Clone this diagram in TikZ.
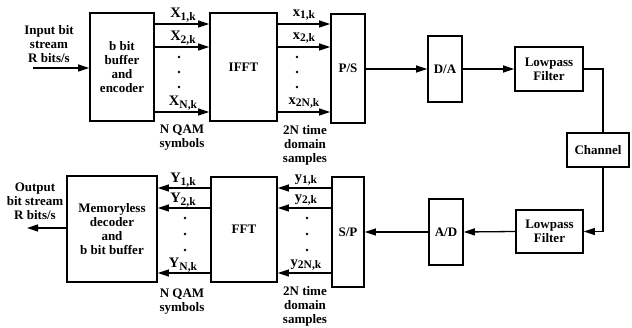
\documentclass[tikz,border=0pt]{standalone}
\usepackage{fontspec}
\setmainfont{Liberation Serif}
\usetikzlibrary{arrows.meta}
\newcommand\dtxt{\fontsize{13}{14}\selectfont\bfseries}
\newcommand\dsub{\fontsize{14.5}{14}\selectfont\bfseries}
\newcommand\dsb[1]{\raisebox{-2.5pt}{\fontsize{11.5}{12}\selectfont\bfseries #1}}
\begin{document}
\begin{tikzpicture}[x=1pt,y=-1pt,
  box/.style={draw, line width=1.6pt, inner sep=0pt, align=center, font=\dtxt},
  arr/.style={line width=1.3pt, -{Triangle[length=11pt,width=7pt]}},
  ln/.style={line width=1.3pt},
  lbl/.style={font=\dtxt, align=center, inner sep=0pt},
  sub/.style={font=\dsub, inner sep=0pt},
  dot/.style={fill, circle, inner sep=0pt, minimum size=2.6pt},
]
\useasboundingbox (0,0) rectangle (632,328);

% top row
\node[box, minimum width=64pt, minimum height=108pt] (enc) at (122,67) {b bit\\buffer\\and\\encoder};
\node[box, minimum width=67pt, minimum height=108pt] (ifft) at (243.5,67) {IFFT};
\node[box, minimum width=34pt, minimum height=109pt] (ps) at (348,68.5) {P/S};
\node[box, minimum width=34pt, minimum height=66pt] (da) at (445,69) {D/A};
\node[box, minimum width=68pt, minimum height=44pt] (lpf1) at (549,69) {Lowpass\\Filter};
\node[box, minimum width=62pt, minimum height=34pt] (chan) at (598,150) {Channel};

% bottom row
\node[box, minimum width=67pt, minimum height=43pt] (lpf2) at (549.5,231.5) {Lowpass\\Filter};
\node[box, minimum width=34pt, minimum height=66pt] (ad) at (446,232) {A/D};
\node[box, minimum width=32pt, minimum height=110pt] (sp) at (348,232) {S/P};
\node[box, minimum width=66pt, minimum height=105pt] (fft) at (244,229.5) {FFT};
\node[box, minimum width=90pt, minimum height=106pt] (dec) at (112,229) {Memoryless\\decoder\\and\\b bit buffer};

% input / output
\node[lbl] (inlbl) at (49,44) {Input bit\\stream\\R bits/s};
\coordinate (instart) at (33,68);
\draw[arr] (instart) -- (enc.west |- instart);
\node[lbl] (outlbl) at (35,201) {Output\\bit stream\\R bits/s};
\coordinate (outend) at (27,228);
\draw[arr] (dec.west |- outend) -- (outend);

% encoder -> IFFT
\foreach \yy in {24,47,112} {
  \draw[arr] (enc.east |- 0,\yy) -- (ifft.west |- 0,\yy);
  \draw[arr] (ifft.east |- 0,\yy) -- (ps.west |- 0,\yy);
}
\node[sub] (X1) at (183,15) {X\dsb{1,k}};
\node[sub] (X2) at (183,38) {X\dsb{2,k}};
\node[sub] (XN) at (183,103) {X\dsb{N,k}};
\node[sub] (x1) at (304,15) {x\dsb{1,k}};
\node[sub] (x2) at (304,38) {x\dsb{2,k}};
\node[sub] (x2N) at (304,103) {x\dsb{2N,k}};
\foreach \yy in {57,72,87} {
  \node[dot] at (179,\yy) {};
  \node[dot] at (297,\yy) {};
}
\node[lbl] (nq1) at (182,138) {N QAM\\symbols};
\node[lbl] (ts1) at (305,145) {2N time\\domain\\samples};

% P/S -> D/A -> LPF -> channel
\draw[arr] (ps.east |- da.west) -- (da.west);
\draw[arr] (da.east) -- (lpf1.west);
\coordinate (cx) at (603,0);
\draw[ln] (lpf1.east) -| (chan.north -| cx);
\draw[arr] (chan.south -| cx) |- (lpf2.east);
\draw[arr] (lpf2.west) -- (ad.east);
\draw[arr] (ad.west) -- (sp.east |- ad.west);

% S/P -> FFT -> decoder
\foreach \yy in {188,208,273} {
  \draw[arr] (sp.west |- 0,\yy) -- (fft.east |- 0,\yy);
  \draw[arr] (fft.west |- 0,\yy) -- (dec.east |- 0,\yy);
}
\node[sub] (Y1) at (183,180) {Y\dsb{1,k}};
\node[sub] (Y2) at (183,200) {Y\dsb{2,k}};
\node[sub] (YN) at (183,265) {Y\dsb{N,k}};
\node[sub] (y1) at (306,180) {y\dsb{1,k}};
\node[sub] (y2) at (306,200) {y\dsb{2,k}};
\node[sub] (y2N) at (306,265) {y\dsb{2N,k}};
\foreach \yy in {218,234,250} {
  \node[dot] at (185,\yy) {};
  \node[dot] at (307,\yy) {};
}
\node[lbl] (nq2) at (182,302) {N QAM\\symbols};
\node[lbl] (ts2) at (305,306) {2N time\\domain\\samples};
\end{tikzpicture}
\end{document}
